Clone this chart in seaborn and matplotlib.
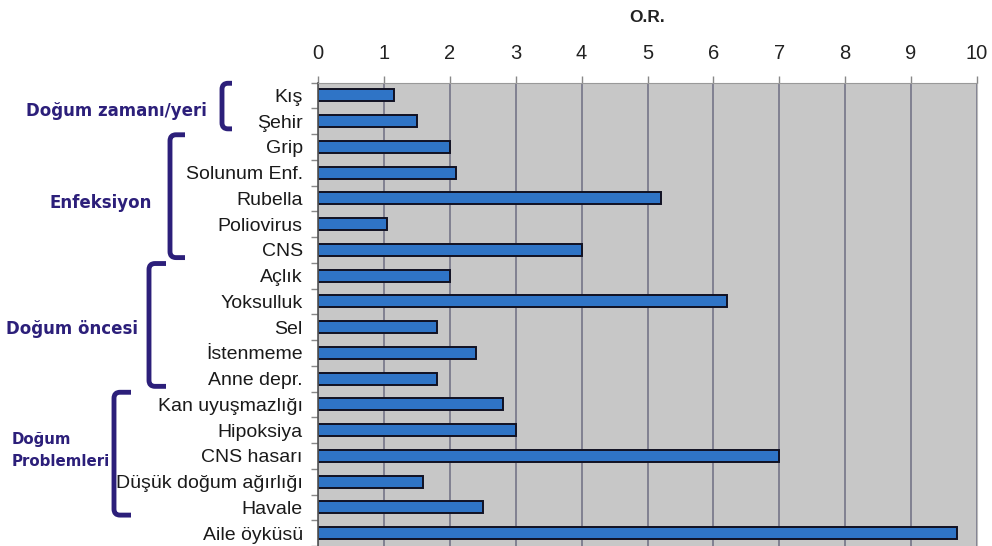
import matplotlib
matplotlib.use("Agg")
import matplotlib.pyplot as plt
import seaborn as sns
import pandas as pd
import numpy as np
from matplotlib.path import Path
from matplotlib.patches import PathPatch

categories = ["Kış", "Şehir", "Grip", "Solunum Enf.", "Rubella", "Poliovirus", "CNS",
              "Açlık", "Yoksulluk", "Sel", "İstenmeme", "Anne depr.",
              "Kan uyuşmazlığı", "Hipoksiya", "CNS hasarı", "Düşük doğum ağırlığı", "Havale",
              "Aile öyküsü"]
values = [1.16, 1.5, 2.0, 2.1, 5.2, 1.04, 4.0,
          2.0, 6.2, 1.8, 2.4, 1.8,
          2.8, 3.0, 7.0, 1.6, 2.5,
          9.7]
xticks = [0, 1, 2, 3, 4, 5, 6, 7, 8, 9, 10]
axis_title = "O.R."
group_names = ["Doğum zamanı/yeri", "Enfeksiyon", "Doğum öncesi", "Doğum\nProblemleri"]
group_first = [0, 2, 7, 12]
group_last = [1, 6, 11, 16]

sns.set_style("white")
plt.rcParams['font.family'] = ['Liberation Sans', 'DejaVu Sans']

W, H = 992, 546
fig = plt.figure(figsize=(W / 100, H / 100), dpi=100)
ax_l, ax_r, ax_t, ax_b = 318, 977, 82.5, 546
ax = fig.add_axes([ax_l / W, 1 - ax_b / H, (ax_r - ax_l) / W, (ax_b - ax_t) / H])

df = pd.DataFrame({"cat": categories, "val": values})
sns.barplot(data=df, x="val", y="cat", orient="h", color="#2F74C6", saturation=1,
            edgecolor="#111122", linewidth=1.4, width=0.46, ax=ax)

ax.set_facecolor("#C7C7C7")
ax.set_xlim(0, 10)
ax.set_ylim(len(categories) - 0.5, -0.5)
ax.set_xticks(xticks)
ax.set_xticklabels([str(t) for t in xticks], fontsize=14.5, color="#222222")
ax.xaxis.tick_top()
ax.tick_params(axis="x", which="major", top=True, bottom=False, length=5, width=1,
               color="#888888", pad=9, labeltop=True, labelbottom=False)
ax.set_xlabel("")
ax.set_ylabel("")
ax.tick_params(axis="y", which="major", length=0, pad=11, labelsize=14, labelcolor="#1a1a1a")
ax.set_yticks(np.arange(-0.5, len(categories), 1), minor=True)
ax.tick_params(axis="y", which="minor", left=True, length=5, width=1, color="#888888")
ax.grid(axis="x", color="#6E6E82", linewidth=1.1)
ax.grid(axis="y", visible=False)
ax.set_axisbelow(True)
ax.spines["left"].set_color("#555555")
ax.spines["left"].set_linewidth(1.2)
ax.spines["top"].set_color("#999999")
ax.spines["right"].set_color("#BBBBBB")
ax.spines["bottom"].set_visible(False)
for s in ["top", "right", "left"]:
    ax.spines[s].set_visible(True)

fig.text(((ax_l + ax_r) / 2) / W, 1 - 18 / H, axis_title, ha="center", va="center",
         fontsize=12.5, fontweight="bold", color="#222222")

# overlay in pixel coordinates for brackets and group labels
ov = fig.add_axes([0, 0, 1, 1], zorder=5)
ov.set_xlim(0, W)
ov.set_ylim(H, 0)
ov.axis("off")
ov.patch.set_alpha(0)

def row_px(r):
    return H - ax.transData.transform((0, r))[1]

navy = "#2C1F7A"
br_x = [222, 170, 149, 114]
br_arm = [10, 15, 17, 17]
lab_x = [207, 152, 138, 12]
lab_ha = ["right", "right", "right", "left"]
lab_dy = [0.12, 0.17, 0.08, -0.2]
lab_fs = [12, 12, 12, 10.8]
for i, name in enumerate(group_names):
    y0 = row_px(group_first[i] - 0.47)
    y1 = row_px(group_last[i] + 0.3)
    x0 = br_x[i]
    xr = x0 + br_arm[i]
    rr = 6
    verts = [(xr, y0), (x0 + rr, y0), (x0, y0), (x0, y0 + rr),
             (x0, y1 - rr), (x0, y1), (x0 + rr, y1), (xr, y1)]
    codes = [Path.MOVETO, Path.LINETO, Path.CURVE3, Path.CURVE3,
             Path.LINETO, Path.CURVE3, Path.CURVE3, Path.LINETO]
    ov.add_patch(PathPatch(Path(verts, codes), fill=False, edgecolor=navy, linewidth=3.5,
                           capstyle="butt", joinstyle="round"))
    yc = row_px((group_first[i] + group_last[i]) / 2 + lab_dy[i])
    ov.text(lab_x[i], yc, name, ha=lab_ha[i], va="center", fontsize=lab_fs[i],
            fontweight="bold", color=navy, family=["DejaVu Sans"], linespacing=1.55,
            multialignment="left")

fig.savefig("out.png", dpi=100)
